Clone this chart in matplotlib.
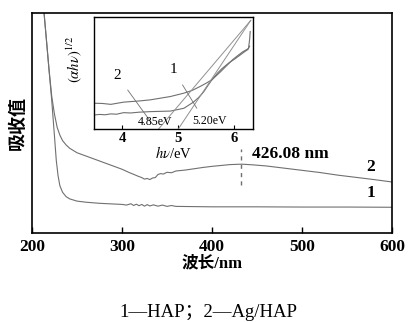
import matplotlib.pyplot as plt

plt.rcParams['font.family'] = ['Liberation Serif', 'Noto Sans CJK SC']
plt.rcParams['mathtext.fontset'] = 'stix'

# main spectra (wavelength nm, absorbance a.u.)
nm_hap = [213, 216, 219, 222, 225, 227, 229, 231, 234, 238, 242, 250, 260, 275, 290,
          300, 305, 310, 313, 316, 319, 322, 325, 328, 331, 335, 340, 345, 350, 355,
          360, 380, 400, 450, 500, 550, 600]
abs_hap = [1.02, 0.88, 0.74, 0.60, 0.44, 0.33, 0.26, 0.215, 0.185, 0.165, 0.155, 0.145,
           0.14, 0.135, 0.132, 0.13, 0.127, 0.133, 0.125, 0.131, 0.124, 0.13, 0.122,
           0.129, 0.123, 0.128, 0.122, 0.127, 0.121, 0.125, 0.121, 0.12, 0.119, 0.119,
           0.118, 0.118, 0.117]

nm_ag = [213, 216, 219, 222, 225, 228, 231, 234, 238, 242, 250, 260, 270, 280, 290, 300,
         308, 314, 318, 322, 325, 328, 331, 334, 337, 340, 343, 346, 350, 355, 360, 370,
         380, 390, 400, 410, 420, 433, 445, 460, 480, 500, 520, 540, 560, 580, 600]
abs_ag = [1.02, 0.88, 0.74, 0.62, 0.54, 0.48, 0.445, 0.42, 0.40, 0.385, 0.365, 0.35,
          0.335, 0.32, 0.305, 0.29, 0.275, 0.265, 0.258, 0.252, 0.245, 0.248, 0.243,
          0.25, 0.252, 0.266, 0.27, 0.268, 0.276, 0.274, 0.282, 0.286, 0.292, 0.298,
          0.303, 0.307, 0.311, 0.313, 0.31, 0.305, 0.295, 0.285, 0.275, 0.263, 0.253,
          0.243, 0.232]

peak_nm = 432
peak_label = '426.08 nm'

# inset: Tauc plot
ev_hap = [3.5, 3.6, 3.7, 3.8, 3.9, 4.03, 4.15, 4.3, 4.5, 4.86, 5.1, 5.27, 5.36, 5.45,
          5.53, 5.6, 5.7, 5.78, 5.9, 5.99, 6.1, 6.18, 6.24, 6.27]
tauc_hap = [0.125, 0.13, 0.127, 0.135, 0.132, 0.146, 0.143, 0.15, 0.155, 0.16, 0.185,
            0.24, 0.28, 0.33, 0.39, 0.44, 0.50, 0.54, 0.59, 0.62, 0.66, 0.69, 0.71, 0.74]
ev_ag = [3.5, 3.65, 3.8, 4.03, 4.3, 4.5, 4.86, 5.1, 5.25, 5.39, 5.5, 5.6, 5.75, 5.87,
         5.97, 6.07, 6.15, 6.22, 6.25, 6.27, 6.28]
tauc_ag = [0.23, 0.228, 0.22, 0.24, 0.25, 0.26, 0.29, 0.32, 0.345, 0.38, 0.41, 0.44,
           0.51, 0.57, 0.62, 0.66, 0.69, 0.71, 0.72, 0.80, 0.87]
fit_ag_ev, fit_ag_y = [4.65, 6.29], [0.0, 0.97]
fit_hap_ev, fit_hap_y = [5.0, 6.29], [0.0, 0.97]

gray = '#707070'

fig = plt.figure(figsize=(4.09, 3.22), dpi=100)
ax = fig.add_axes([0.0782, 0.2764, 0.880, 0.683])
ax.plot(nm_hap, abs_hap, color=gray, lw=0.8)
ax.plot(nm_ag, abs_ag, color=gray, lw=0.8)
ax.plot([peak_nm, peak_nm], [0.22, 0.38], color=gray, lw=1.0, ls=(0, (3, 3)))
ax.text(444, 0.34, peak_label, fontsize=12.5, fontweight='bold', va='baseline')
ax.text(572, 0.30, '2', fontsize=12.5, fontweight='bold', va='center')
ax.text(572, 0.18, '1', fontsize=12.5, fontweight='bold', va='center')

ax.set_xlim(200, 600)
ax.set_ylim(0, 1)
ax.set_xticks([200, 300, 400, 500, 600])
ax.set_yticks([])
ax.tick_params(axis='x', direction='in', length=4, width=1, pad=4, labelsize=12.5)
for lab in ax.get_xticklabels():
    lab.set_fontweight('bold')
for sp in ax.spines.values():
    sp.set_linewidth(1.2)
ax.set_xlabel('波长/nm', fontsize=12, fontweight='bold', labelpad=1)
ax.set_ylabel('吸收值', fontsize=13, fontweight='bold', labelpad=4)

ins = fig.add_axes([0.2298, 0.5994, 0.3888, 0.3478])
ins.plot(ev_hap, tauc_hap, color=gray, lw=0.8)
ins.plot(ev_ag, tauc_ag, color=gray, lw=0.8)
ins.plot(fit_ag_ev, fit_ag_y, color='#909090', lw=0.7)
ins.plot(fit_hap_ev, fit_hap_y, color='#909090', lw=0.7)
ins.set_xlim(3.5, 6.33)
ins.set_ylim(0, 1)
ins.set_xticks([4, 5, 6])
ins.set_yticks([])
ins.tick_params(axis='x', direction='in', length=3, pad=2, labelsize=10.5)
for lab in ins.get_xticklabels():
    lab.set_fontweight('bold')
for sp in ins.spines.values():
    sp.set_linewidth(1.0)
ins.set_xlabel(r'$h\nu$/eV', fontsize=10.5, labelpad=0)
ins.set_ylabel(r'$(\alpha h\nu)^{1/2}$', fontsize=10.5)
ins.yaxis.set_label_coords(-0.06, 0.62)

ins.annotate('2', xy=(4.53, 0.05), xytext=(3.91, 0.48), fontsize=11,
             ha='center', va='center',
             arrowprops=dict(arrowstyle='-', color=gray, lw=0.6, shrinkA=5, shrinkB=0))
ins.annotate('1', xy=(5.33, 0.185), xytext=(4.91, 0.53), fontsize=11,
             ha='center', va='center',
             arrowprops=dict(arrowstyle='-', color=gray, lw=0.6, shrinkA=5, shrinkB=0))
ins.text(4.58, 0.06, '4.85eV', fontsize=8.5, ha='center', va='center')
ins.text(5.55, 0.07, '5.20eV', fontsize=8.5, ha='center', va='center')

fig.text(0.51, 0.03, '1—HAP；2—Ag/HAP', fontsize=13.5, ha='center', va='center')

fig.savefig('out.png', dpi=100)
